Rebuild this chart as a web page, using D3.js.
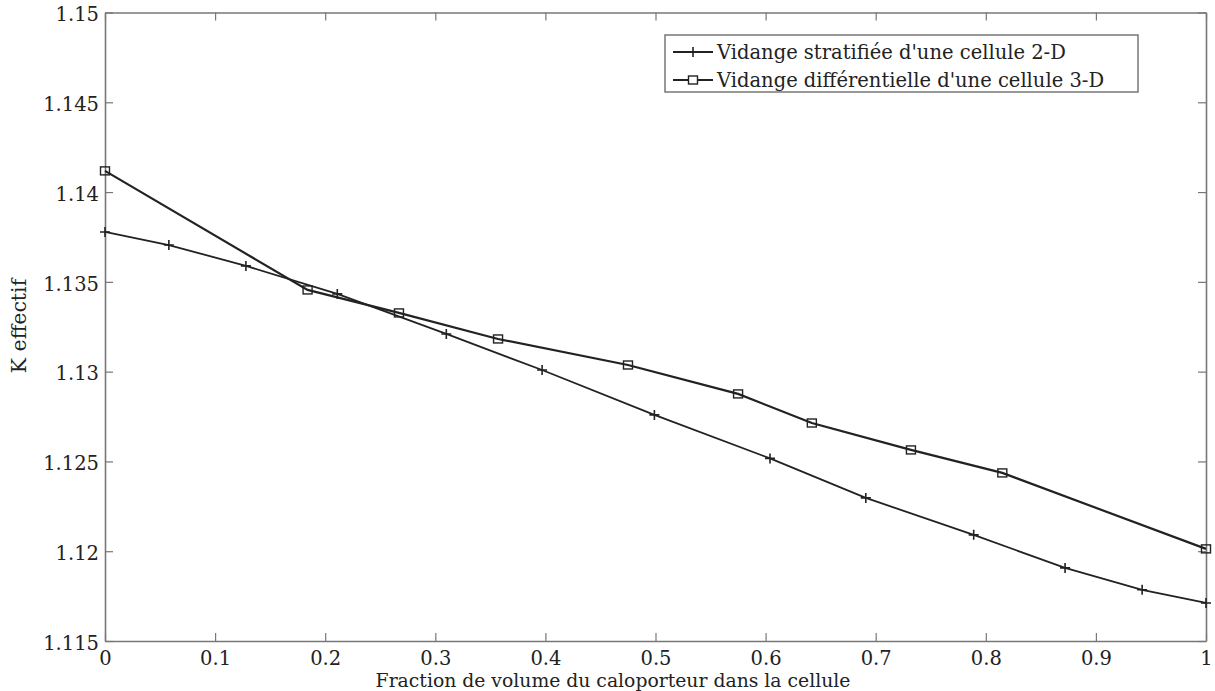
<!DOCTYPE html>
<html>
<head>
<meta charset="utf-8">
<script src="https://cdn.jsdelivr.net/npm/d3@7"></script>
<style>
  body { margin: 0; background: #fff; }
</style>
</head>
<body>
<svg id="svg1" width="1215" height="691"></svg>
<script>
// series 1 : vidange stratifiée 2-D
var stratX = [0, 0.058, 0.128, 0.211, 0.310, 0.397, 0.499, 0.604, 0.691, 0.789, 0.872, 0.942, 1.0];
var stratY = [1.13778, 1.13705, 1.13589, 1.13433, 1.13210, 1.13009, 1.12759, 1.12517, 1.12297, 1.12091, 1.11907, 1.11785, 1.11712];
// series 2 : vidange différentielle 3-D
var diffX = [0, 0.184, 0.267, 0.357, 0.475, 0.575, 0.642, 0.732, 0.815, 1.0];
var diffY = [1.14118, 1.13455, 1.13327, 1.13182, 1.13037, 1.12876, 1.12714, 1.12564, 1.12436, 1.12013];

var xTicks = [0, 0.1, 0.2, 0.3, 0.4, 0.5, 0.6, 0.7, 0.8, 0.9, 1];
var yTicks = [1.115, 1.12, 1.125, 1.13, 1.135, 1.14, 1.145, 1.15];
var legendLabels = ["Vidange stratifiée d'une cellule 2-D", "Vidange différentielle d'une cellule 3-D"];

var FONT = "'DejaVu Serif', serif";

var svg = d3.select("#svg1"),
    margin = { top: 12.5, right: 9, bottom: 50, left: 105 },
    width = +svg.attr("width") - margin.left - margin.right,
    height = +svg.attr("height") - margin.top - margin.bottom,
    g = svg.append("g").attr("transform", "translate(" + margin.left + "," + margin.top + ")");

var x = d3.scaleLinear().domain([0, 1]).range([0, width]);
var y = d3.scaleLinear().domain([1.115, 1.15]).range([height, 0]);

var fmt = function (d) { return String(+d.toFixed(3)); };

// axes with inward ticks
var axB = g.append("g").attr("transform", "translate(0," + height + ")")
    .call(d3.axisBottom(x).tickValues(xTicks).tickSizeInner(-8).tickSizeOuter(0).tickPadding(12).tickFormat(fmt));
var axL = g.append("g")
    .call(d3.axisLeft(y).tickValues(yTicks).tickSizeInner(-8).tickSizeOuter(0).tickPadding(6).tickFormat(fmt));
var axT = g.append("g")
    .call(d3.axisTop(x).tickValues(xTicks).tickSizeInner(-8).tickSizeOuter(0).tickFormat(""));
var axR = g.append("g").attr("transform", "translate(" + width + ",0)")
    .call(d3.axisRight(y).tickValues(yTicks).tickSizeInner(-8).tickSizeOuter(0).tickFormat(""));

[axB, axL, axT, axR].forEach(function (a) {
    a.attr("font-family", FONT).attr("font-size", 19.5);
    a.select(".domain").attr("stroke", "#777").attr("stroke-width", 1.6);
    a.selectAll(".tick line").attr("stroke", "#777").attr("stroke-width", 1.2);
    a.selectAll(".tick text").attr("fill", "#222");
});
axL.selectAll(".tick text").attr("dy", "0.42em");
axB.selectAll(".tick text").attr("dy", "0.62em");

// lines
var line = d3.line().x(function (d) { return x(d[0]); }).y(function (d) { return y(d[1]); });
var strat = stratX.map(function (v, i) { return [v, stratY[i]]; });
var diff = diffX.map(function (v, i) { return [v, diffY[i]]; });

g.append("path").datum(strat).attr("d", line)
    .attr("fill", "none").attr("stroke", "#222").attr("stroke-width", 1.8);
g.append("path").datum(diff).attr("d", line)
    .attr("fill", "none").attr("stroke", "#222").attr("stroke-width", 2.2);

g.selectAll(".plus").data(strat).enter().append("path")
    .attr("class", "plus")
    .attr("d", function (d) {
        var cx = x(d[0]), cy = y(d[1]), s = 5;
        return "M" + (cx - s) + "," + cy + "H" + (cx + s) + "M" + cx + "," + (cy - s) + "V" + (cy + s);
    })
    .attr("stroke", "#222").attr("stroke-width", 1.6);

g.selectAll(".sq").data(diff).enter().append("rect")
    .attr("class", "sq")
    .attr("x", function (d) { return x(d[0]) - 4.5; })
    .attr("y", function (d) { return y(d[1]) - 4; })
    .attr("width", 9).attr("height", 8)
    .attr("fill", "none").attr("stroke", "#222").attr("stroke-width", 1.4);

// legend
var lg = svg.append("g");
lg.append("rect").attr("x", 665).attr("y", 35).attr("width", 473).attr("height", 57)
    .attr("fill", "#fff").attr("stroke", "#777").attr("stroke-width", 1.5);
legendLabels.forEach(function (lab, i) {
    var cy = 52 + i * 28;
    lg.append("line").attr("x1", 673).attr("x2", 713).attr("y1", cy).attr("y2", cy)
        .attr("stroke", "#222").attr("stroke-width", 2);
    if (i === 0) {
        lg.append("line").attr("x1", 693).attr("x2", 693).attr("y1", cy - 5).attr("y2", cy + 5)
            .attr("stroke", "#222").attr("stroke-width", 1.6);
    } else {
        lg.append("rect").attr("x", 688.5).attr("y", cy - 4).attr("width", 9).attr("height", 8)
            .attr("fill", "#fff").attr("stroke", "#222").attr("stroke-width", 1.4);
    }
    lg.append("text").attr("x", 717).attr("y", cy).attr("dy", "0.35em")
        .attr("font-family", FONT).attr("font-size", 19.5).attr("fill", "#222").text(lab);
});

// axis labels
svg.append("text")
    .attr("x", 613)
    .attr("y", 687)
    .attr("text-anchor", "middle")
    .attr("font-family", FONT).attr("font-size", 18.8).attr("fill", "#222")
    .text("Fraction de volume du caloporteur dans la cellule");

svg.append("text")
    .attr("transform", "rotate(-90)")
    .attr("x", -326)
    .attr("y", 26)
    .attr("text-anchor", "middle")
    .attr("font-family", FONT).attr("font-size", 20.5).attr("fill", "#222")
    .text("K effectif");
</script>
</body>
</html>
